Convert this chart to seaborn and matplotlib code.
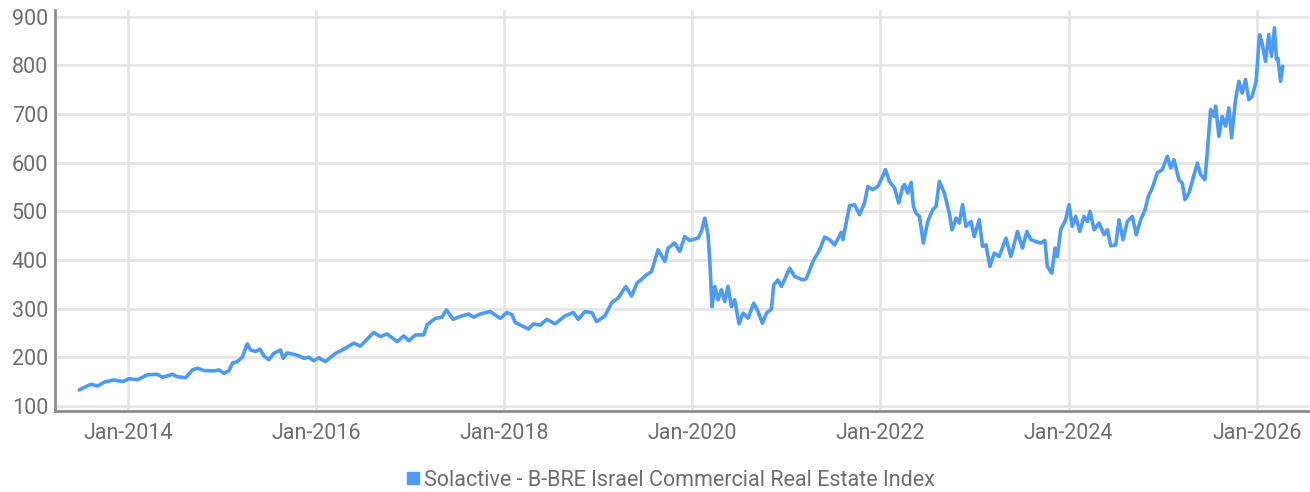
import pandas as pd
import numpy as np
import matplotlib
matplotlib.use("Agg")
import matplotlib.pyplot as plt
import matplotlib.dates as mdates
from matplotlib.lines import Line2D
import seaborn as sns

# index level, time given as fractional years
years = [
    2013.483, 2013.607, 2013.679, 2013.749, 2013.855, 2013.944, 2014.014, 2014.103,
    2014.209, 2014.315, 2014.368, 2014.474, 2014.527, 2014.615, 2014.686, 2014.740,
    2014.810, 2014.916, 2014.969, 2015.022, 2015.075, 2015.111, 2015.164, 2015.217,
    2015.270, 2015.305, 2015.358, 2015.404, 2015.446, 2015.499, 2015.552, 2015.623,
    2015.652, 2015.694, 2015.764, 2015.818, 2015.871, 2015.924, 2015.977, 2016.030,
    2016.101, 2016.207, 2016.295, 2016.401, 2016.472, 2016.613, 2016.684, 2016.755,
    2016.862, 2016.932, 2016.985, 2017.056, 2017.144, 2017.180, 2017.268, 2017.339,
    2017.385, 2017.456, 2017.533, 2017.621, 2017.674, 2017.745, 2017.851, 2017.958,
    2018.029, 2018.082, 2018.117, 2018.205, 2018.258, 2018.311, 2018.382, 2018.453,
    2018.541, 2018.647, 2018.735, 2018.788, 2018.859, 2018.931, 2018.984, 2019.072,
    2019.143, 2019.213, 2019.294, 2019.355, 2019.411, 2019.514, 2019.567, 2019.637,
    2019.708, 2019.743, 2019.814, 2019.867, 2019.920, 2019.973, 2020.062, 2020.098,
    2020.133, 2020.168, 2020.186, 2020.210, 2020.239, 2020.274, 2020.310, 2020.345,
    2020.380, 2020.416, 2020.451, 2020.497, 2020.539, 2020.592, 2020.653, 2020.698,
    2020.745, 2020.787, 2020.840, 2020.865, 2020.910, 2020.946, 2021.034, 2021.088,
    2021.176, 2021.212, 2021.282, 2021.353, 2021.406, 2021.459, 2021.512, 2021.583,
    2021.600, 2021.671, 2021.724, 2021.777, 2021.830, 2021.865, 2021.918, 2021.971,
    2022.007, 2022.053, 2022.095, 2022.149, 2022.194, 2022.237, 2022.255, 2022.290,
    2022.326, 2022.350, 2022.379, 2022.414, 2022.456, 2022.502, 2022.555, 2022.591,
    2022.626, 2022.679, 2022.732, 2022.761, 2022.803, 2022.838, 2022.873, 2022.909,
    2022.962, 2022.997, 2023.050, 2023.085, 2023.122, 2023.164, 2023.210, 2023.263,
    2023.334, 2023.387, 2023.457, 2023.510, 2023.557, 2023.599, 2023.652, 2023.705,
    2023.748, 2023.775, 2023.822, 2023.857, 2023.881, 2023.917, 2023.970, 2024.005,
    2024.040, 2024.076, 2024.119, 2024.164, 2024.200, 2024.228, 2024.271, 2024.324,
    2024.377, 2024.412, 2024.448, 2024.501, 2024.536, 2024.578, 2024.624, 2024.677,
    2024.719, 2024.766, 2024.812, 2024.847, 2024.889, 2024.942, 2024.995, 2025.048,
    2025.084, 2025.119, 2025.172, 2025.207, 2025.236, 2025.279, 2025.313, 2025.367,
    2025.403, 2025.448, 2025.473, 2025.509, 2025.544, 2025.562, 2025.597, 2025.632,
    2025.668, 2025.703, 2025.732, 2025.774, 2025.809, 2025.844, 2025.880, 2025.915,
    2025.950, 2025.993, 2026.029, 2026.056, 2026.092, 2026.127, 2026.156, 2026.188,
    2026.209, 2026.226, 2026.252, 2026.276,
]
values = [
    133, 144.6, 141, 149, 153.5, 150, 156, 154,
    164, 165, 159, 165, 160, 158, 174, 177.5,
    172.6, 172, 174, 167, 172, 188, 191, 200,
    227.6, 215, 212, 216.6, 203, 195, 208, 215,
    198, 209, 206, 203, 198, 200, 193, 199,
    191, 208, 216.6, 229, 223, 251, 242.6, 248,
    232, 244, 234, 246, 246, 266.7, 280, 282.5,
    297.5, 278, 284, 289, 282.5, 289, 294, 280,
    292, 287.5, 272, 263, 258, 268.7, 266, 278,
    268.7, 285, 292, 278, 294, 292, 273.5, 285,
    312, 322, 345.5, 326, 352, 369.5, 376, 421,
    397, 424.5, 434.8, 417.5, 448, 440, 445, 458.6,
    486, 452, 400, 304, 345.5, 318, 338.7, 314.6,
    345.5, 304, 318, 268.7, 290.7, 280.5, 311, 294,
    270, 290.7, 299, 349, 359, 345.5, 383, 366,
    359, 362, 397, 421, 447, 441.6, 431, 456.6,
    441.6, 511.5, 513.6, 493, 517, 551, 544.4, 551,
    565, 585.6, 561.5, 548, 517, 551, 555, 537.7,
    559.5, 510, 496, 489.5, 434.8, 479, 503, 510,
    561.5, 537.7, 496, 462, 486, 476, 513.6, 469,
    479, 448, 482.7, 428, 431, 386.6, 414, 407,
    445, 407, 458.6, 424.5, 458.6, 441.6, 438, 434.8,
    440, 386.6, 373, 424.5, 407, 462, 482.7, 513.6,
    469, 489.5, 458.6, 489.5, 479, 500, 462, 476,
    452, 462, 429, 431, 482.7, 441.6, 479, 489.5,
    452, 482.7, 503, 531, 548, 579, 585.6, 613,
    589, 606, 565, 558, 524, 537.7, 561.5, 599,
    575, 565, 620, 709, 695, 716, 654, 695,
    675, 712.5, 651, 729.6, 767, 743, 770.8, 729.6,
    736, 767, 863, 846, 808, 863, 818.5, 877,
    812, 814, 767, 798,
]
series_name = "Solactive - B-BRE Israel Commercial Real Estate Index"
y_ticks = [100, 200, 300, 400, 500, 600, 700, 800, 900]


def frac_to_date(y):
    year = int(np.floor(y))
    start = pd.Timestamp(year, 1, 1)
    length = (pd.Timestamp(year + 1, 1, 1) - start).days
    return start + pd.Timedelta(days=(y - year) * length)


df = pd.DataFrame({"date": [frac_to_date(y) for y in years], "value": values})

sns.set_theme(style="white")
plt.rcParams["font.family"] = ["Roboto", "DejaVu Sans"]

line_color = "#4d9bf5"
text_color = "#6e6e6e"

fig = plt.figure(figsize=(13.1, 4.92), dpi=100)
ax = fig.add_axes([0.042, 0.165, 0.957, 0.815])

sns.lineplot(data=df, x="date", y="value", ax=ax, color=line_color,
             linewidth=2.6, legend=False)

ax.set_ylim(90, 914)
ax.set_xlim(frac_to_date(2013.225), frac_to_date(2026.552))
ax.set_yticks(y_ticks)
ax.xaxis.set_major_locator(mdates.YearLocator(2))
ax.xaxis.set_major_formatter(mdates.DateFormatter("%b-%Y"))

ax.grid(True, color="#e6e6e6", linewidth=2)
ax.set_axisbelow(True)
ax.set_xlabel("")
ax.set_ylabel("")

for side in ["top", "right"]:
    ax.spines[side].set_visible(False)
for side in ["left", "bottom"]:
    ax.spines[side].set_color("#8c8c8c")
    ax.spines[side].set_linewidth(2)

ax.tick_params(axis="both", length=0, labelsize=15.5, labelcolor=text_color)
ax.tick_params(axis="y", pad=5)
ax.tick_params(axis="x", pad=9)

handle = Line2D([], [], linestyle="none", marker="s", markersize=8,
                color=line_color)
fig.legend([handle], [series_name], loc="center", bbox_to_anchor=(0.511, 0.024),
           frameon=False, fontsize=15.5, labelcolor=text_color,
           handletextpad=0.1, handlelength=0.8)

fig.savefig("out.png", dpi=100)
